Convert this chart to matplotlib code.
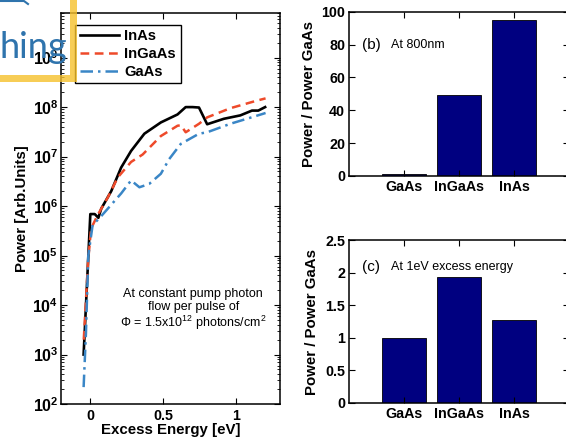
import math
import matplotlib
matplotlib.use("Agg")
import matplotlib.pyplot as plt
from matplotlib.ticker import FixedLocator, FuncFormatter, NullLocator, LogLocator
from matplotlib.patches import Rectangle
from matplotlib.lines import Line2D

plt.rcParams['font.family'] = ['Liberation Sans', 'DejaVu Sans']
plt.rcParams['mathtext.fontset'] = 'custom'
plt.rcParams['mathtext.rm'] = 'Liberation Sans'
plt.rcParams['mathtext.bf'] = 'Liberation Sans:bold'
plt.rcParams['mathtext.it'] = 'Liberation Sans:italic'

# (a) power vs excess energy
inas_x = [-0.046, 0.0, 0.03, 0.055, 0.075, 0.143, 0.211, 0.279, 0.37, 0.483,
          0.597, 0.653, 0.70, 0.744, 0.80, 0.914, 1.027, 1.107, 1.15, 1.197]
inas_y = [1.0e3, 6.9e5, 6.9e5, 5.8e5, 8.9e5, 2.0e6, 6.0e6, 1.3e7, 2.9e7, 4.9e7,
          7.1e7, 1.0e8, 1.0e8, 9.8e7, 4.5e7, 5.8e7, 6.8e7, 8.5e7, 8.5e7, 1.0e8]

ingaas_x = [-0.045, -0.015, 0.005, 0.05, 0.12, 0.188, 0.279, 0.358, 0.483,
            0.597, 0.62, 0.653, 0.744, 0.80, 0.959, 1.14, 1.2]
ingaas_y = [2.0e3, 7.9e4, 3.5e5, 6.6e5, 1.5e6, 3.8e6, 7.8e6, 1.1e7, 2.6e7,
            4.2e7, 4.3e7, 3.1e7, 4.6e7, 6.2e7, 9.5e7, 1.35e8, 1.5e8]

gaas_x = [-0.046, -0.03, -0.014, 0.016, 0.06, 0.12, 0.211, 0.279, 0.336, 0.403,
          0.483, 0.54, 0.619, 0.744, 0.80, 0.959, 1.175, 1.2]
gaas_y = [2.2e2, 2.7e3, 1.0e5, 4.2e5, 5.6e5, 8.9e5, 1.8e6, 3.3e6, 2.4e6, 2.8e6,
          4.5e6, 8.9e6, 1.8e7, 2.9e7, 3.1e7, 4.6e7, 7.2e7, 7.6e7]
power_ticks = [1e2, 1e3, 1e4, 1e5, 1e6, 1e7, 1e8, 1e9]

# (b), (c) ratios to GaAs
materials = ['GaAs', 'InGaAs', 'InAs']
ratio_800nm = [1.0, 49.4, 95.1]
ratio_1ev = [1.0, 1.93, 1.27]

fig = plt.figure(figsize=(5.66, 4.45), dpi=100)

tick_font = dict(fontsize=10.3, fontweight='bold')
label_font = dict(fontsize=10.8, fontweight='bold')

# ---- left panel
ax = fig.add_axes([0.108, 0.092, 0.387, 0.879])
ax.plot(inas_x, inas_y, color='black', lw=1.9, label='InAs')
ax.plot(ingaas_x, ingaas_y, color='#ee4a2a', lw=1.8, ls=(0, (3.5, 2.2)), label='InGaAs')
ax.plot(gaas_x, gaas_y, color='#3a86c6', lw=1.8, ls=(0, (5, 2, 1, 2)), label='GaAs')
ax.set_yscale('log')
ax.set_xlim(-0.2, 1.3)
ax.set_ylim(1e2, 8e9)
ax.xaxis.set_major_locator(FixedLocator([0, 0.5, 1]))
ax.xaxis.set_major_formatter(FuncFormatter(lambda v, p: '%g' % v))
ax.xaxis.set_minor_locator(NullLocator())
ax.yaxis.set_major_locator(FixedLocator(power_ticks))
ax.yaxis.set_minor_locator(LogLocator(base=10, subs=range(2, 10), numticks=12))
ax.yaxis.set_major_formatter(FuncFormatter(lambda v, p: r'$\mathbf{10^{%d}}$' % round(math.log10(v))))
ax.tick_params(which='both', direction='in', top=True, right=True)
ax.tick_params(axis='x', labelsize=10.3)
ax.tick_params(axis='y', labelsize=11.5, pad=2)
ax.tick_params(which='major', length=4)
ax.tick_params(which='minor', length=2)
for lab in ax.get_xticklabels():
    lab.set_fontweight('bold')
for s in ax.spines.values():
    s.set_linewidth(1.1)
ax.set_xlabel('Excess Energy [eV]', labelpad=0, **label_font)
ax.set_ylabel('Power [Arb.Units]', labelpad=2, **label_font)
leg = ax.legend(loc='upper left', bbox_to_anchor=(0.064, 0.969), borderaxespad=0,
                fancybox=False, edgecolor='black', framealpha=1,
                prop=dict(size=10.6, weight='bold'), handlelength=2.7,
                labelspacing=0.25, borderpad=0.3, handletextpad=0.35)
leg.get_frame().set_linewidth(1.0)
ax.text(0.603, 0.24, 'At constant pump photon\nflow per pulse of\n'
        r'$\Phi$ = 1.5x10$^{12}$ photons/cm$^{2}$',
        transform=ax.transAxes, ha='center', va='center', fontsize=9,
        linespacing=1.1)


def bar_panel(rect, values, ylim, yticks, ylabels, tag, note, ty):
    b = fig.add_axes(rect)
    xs = [1, 2, 3]
    b.bar(xs, values, width=0.8, color='#000080', edgecolor='black', linewidth=0.6)
    b.set_xlim(0, 4)
    b.set_ylim(*ylim)
    b.set_xticks(xs)
    b.set_xticklabels(materials, **tick_font)
    b.set_yticks(yticks)
    b.set_yticklabels(ylabels, **tick_font)
    b.tick_params(direction='in', top=True, right=True, length=4, pad=3)
    for s in b.spines.values():
        s.set_linewidth(1.1)
    b.set_ylabel('Power / Power GaAs', labelpad=4, **label_font)
    b.text(0.059, ty, tag, transform=b.transAxes, fontsize=11, va='center')
    b.text(0.19, ty, note, transform=b.transAxes, fontsize=9, va='center')
    return b


bar_panel([0.617, 0.6045, 0.389, 0.369], ratio_800nm, (0, 100),
          [0, 20, 40, 60, 80, 100], ['0', '20', '40', '60', '80', '100'],
          '(b)', 'At 800nm', 0.80)
bar_panel([0.617, 0.0944, 0.389, 0.366], ratio_1ev, (0, 2.5),
          [0, 0.5, 1, 1.5, 2, 2.5], ['0', '0.5', '1', '1.5', '2', '2.5'],
          '(c)', 'At 1eV excess energy', 0.835)

# slide remnants over the top-left corner
W, H = 566.0, 445.0
fig.patches.append(Rectangle((70 / W, (H - 82) / H), 7 / W, 82 / H,
                             transform=fig.transFigure, color='#f6c12c',
                             alpha=0.8, lw=0, zorder=5))
fig.patches.append(Rectangle((0, (H - 82) / H), 70 / W, 7 / H,
                             transform=fig.transFigure, color='#f6c12c',
                             alpha=0.8, lw=0, zorder=5))
fig.text(0.0, (H - 58) / H, 'hing', family='Lato', fontsize=26,
         color='#2f74ad', ha='left', va='baseline', zorder=6)
fig.lines.append(Line2D([0, 24 / W, 28 / W], [(H - 1) / H, (H - 1) / H, (H - 4) / H],
                        transform=fig.transFigure, color='#2f74ad', lw=1.5, zorder=6))

fig.savefig('out.png', dpi=100)
